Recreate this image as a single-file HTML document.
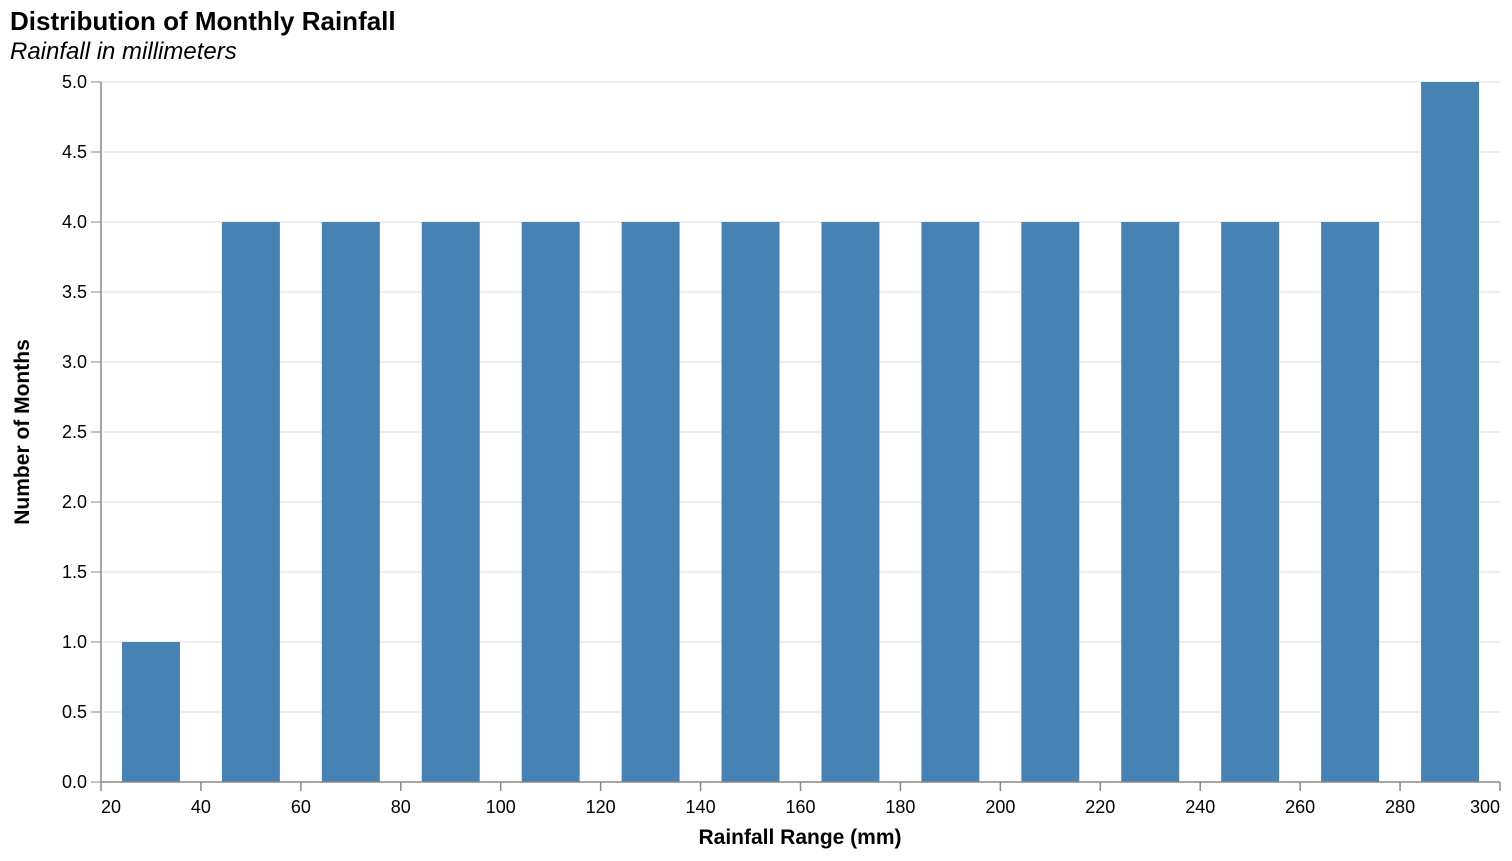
<!DOCTYPE html>
<html><head><meta charset="utf-8"><style>
body{margin:0;background:#fff;}
svg text{font-family:"Liberation Sans",Arial,sans-serif;}
</style></head><body>
<svg id="chart" width="1512" height="856" xmlns="http://www.w3.org/2000/svg">
<text x="10" y="30" font-size="26" font-weight="bold" fill="#000">Distribution of Monthly Rainfall</text>
<text x="10" y="59" font-size="24" font-style="italic" fill="#000">Rainfall in millimeters</text>
<g id="grid"></g><g id="bars"></g><g id="axes"></g>
<text x="800" y="844" font-size="21" font-weight="bold" text-anchor="middle">Rainfall Range (mm)</text>
<text transform="translate(29,432) rotate(-90)" font-size="21" font-weight="bold" text-anchor="middle">Number of Months</text>
</svg>
<script>
const binCenters=[30,50,70,90,110,130,150,170,190,210,230,250,270,290];
const counts=[1,4,4,4,4,4,4,4,4,4,4,4,4,5];
const xTicks=[20,40,60,80,100,120,140,160,180,200,220,240,260,280,300];
const yTicks=[0,0.5,1,1.5,2,2.5,3,3.5,4,4.5,5];
const NS="http://www.w3.org/2000/svg";
const X0=101,X1=1500,Y0=782,Y1=82;
const x=v=>X0+(v-20)/280*(X1-X0);
const y=v=>Y0-v/5*(Y0-Y1);
function mk(t,a,p){const e=document.createElementNS(NS,t);for(const k in a)e.setAttribute(k,a[k]);p.appendChild(e);return e;}
const grid=document.getElementById('grid'),bars=document.getElementById('bars'),axes=document.getElementById('axes');
yTicks.forEach(v=>{
 const l=mk('line',{x1:X0,x2:X1,y1:y(v),y2:y(v),stroke:'#ddd','stroke-width':1},grid);
 
 
 const tk=mk('line',{x1:X0-10,x2:X0,y1:y(v),y2:y(v),stroke:'#888'},axes);
 
 
 const t=mk('text',{x:X0-14,y:y(v)+6,'font-size':18,'text-anchor':'end',fill:'#000'},axes);
 t.textContent=v.toFixed(1);
 
 
});
binCenters.forEach((c,i)=>{
 const r=mk('rect',{x:x(c-5.8),y:y(counts[i]),width:x(c+5.8)-x(c-5.8),height:Y0-y(counts[i]),fill:'#4682b4'},bars);
 
 
});
const ya=mk('line',{x1:X0,x2:X0,y1:Y1,y2:Y0,stroke:'#888','stroke-width':1.5},axes);


const xa=mk('line',{x1:X0,x2:X1,y1:Y0,y2:Y0,stroke:'#888','stroke-width':1.5},axes);


xTicks.forEach((v,i)=>{
 const tk=mk('line',{x1:x(v),x2:x(v),y1:Y0,y2:Y0+9,stroke:'#888','stroke-width':1.5},axes);
 
 
 const anchor=i===0?'start':(i===xTicks.length-1?'end':'middle');
 const t=mk('text',{x:x(v),y:Y0+31,'font-size':18,'text-anchor':anchor,fill:'#000'},axes);
 t.textContent=v;
 
 
});
</script>
</body></html>
